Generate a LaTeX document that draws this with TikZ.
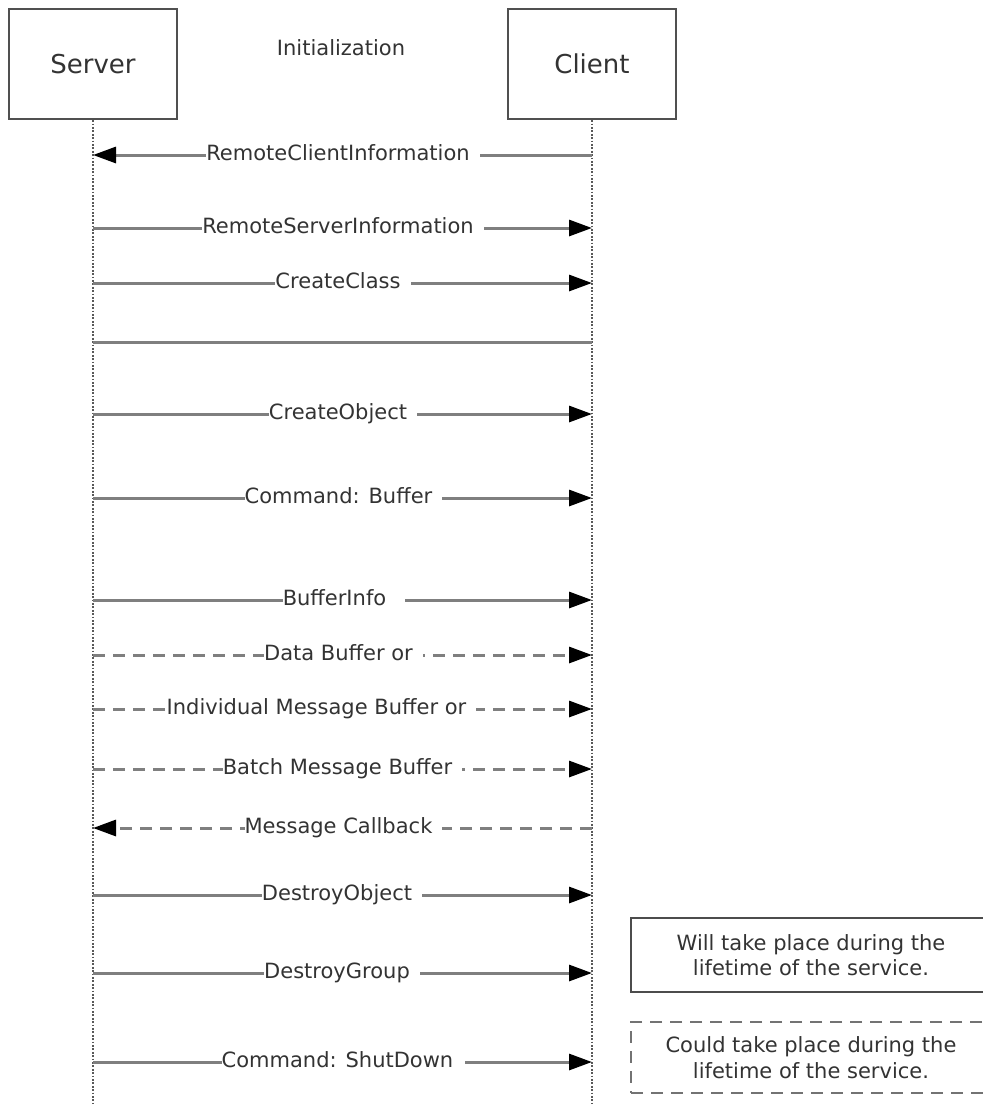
\documentclass[tikz,border=0pt]{standalone}
\usepackage{fontspec}
\setmainfont{DejaVu Sans}
\usetikzlibrary{arrows.meta}
\definecolor{linegray}{HTML}{7F7F7F}
\definecolor{txt}{HTML}{333333}
\definecolor{boxc}{HTML}{505050}
\newcommand\msgrow[6]{% id, y, text centre x, line style, label, right gap
  \coordinate (s#1) at (93,#2);
  \coordinate (c#1) at (592,#2);
  \draw[#4] (s#1) -- (c#1);
  \node[lbl,xshift=#6/2] (l#1) at (#3,#2) {#5\hspace*{#6}};
}
\begin{document}
\begin{tikzpicture}[x=1pt,y=-1pt,
  actor/.style={draw=boxc,line width=2.4pt,minimum width=168pt,minimum height=110pt,inner sep=0pt,text=txt,font=\fontsize{26}{30}\selectfont},
  lifeline/.style={draw=black!65,line width=2.4pt,dash pattern=on 1.8pt off 1.6pt},
  msgline/.style={draw=linegray,line width=3pt},
  optline/.style={msgline,dash pattern=on 12pt off 8pt},
  tofwd/.style={-{Triangle[length=23pt,width=16pt,color=black]}},
  lbl/.style={fill=white,inner sep=0pt,text=txt,font=\fontsize{21}{25}\selectfont,text height=15pt,text depth=4pt},
  title/.style={inner sep=0pt,text=txt,font=\fontsize{21}{25}\selectfont},
  note/.style={line width=2pt,draw=black!70,text=txt,align=center,font=\fontsize{21}{25.5}\selectfont,minimum width=360pt,inner sep=0pt},
  dnote/.style={note,draw=black!55,dash pattern=on 12pt off 8pt}]
\useasboundingbox (0,0) rectangle (983,1104);
\clip (0,0) rectangle (983,1104);
\fill[white] (0,0) rectangle (983,1104);
\node[actor] (server) at (93,64) {Server};
\node[actor] (client) at (592,64) {Client};
\node[title] (init) at (341,48) {Initialization};
\coordinate (sEnd) at (93,1104);
\coordinate (cEnd) at (592,1104);
\draw[lifeline] (server.south) -- (sEnd);
\draw[lifeline] (client.south) -- (cEnd);
% messages
\coordinate (s1) at (93,155); \coordinate (c1) at (592,155);
\draw[msgline,tofwd] (c1) -- (s1);
\node[lbl,xshift=5pt] (l1) at (338,155) {RemoteClientInformation\hspace*{10pt}};
\msgrow{2}{228}{338}{msgline,tofwd}{RemoteServerInformation}{10pt}
\msgrow{3}{283}{338}{msgline,tofwd}{CreateClass}{10pt}
\coordinate (s4) at (93,342); \coordinate (c4) at (592,342);
\draw[msgline] (s4) -- (c4);
\msgrow{5}{414}{338}{msgline,tofwd}{CreateObject}{10pt}
\msgrow{6}{498}{338.5}{msgline,tofwd}{Command: Buffer}{10pt}
\msgrow{7}{600}{334.5}{msgline,tofwd}{BufferInfo}{19pt}
\msgrow{8}{655}{338.5}{optline,tofwd}{Data Buffer or}{10pt}
\msgrow{9}{709}{316.5}{optline,tofwd}{Individual Message Buffer or}{10pt}
\msgrow{10}{769}{337.5}{optline,tofwd}{Batch Message Buffer}{10pt}
\coordinate (s11) at (93,828); \coordinate (c11) at (592,828);
\draw[optline,tofwd] (c11) -- (s11);
\node[lbl,xshift=5pt] (l11) at (338.5,828) {Message Callback\hspace*{10pt}};
\msgrow{12}{895}{337}{msgline,tofwd}{DestroyObject}{10pt}
\msgrow{13}{973}{337}{msgline,tofwd}{DestroyGroup}{10pt}
\msgrow{14}{1062}{337.5}{msgline,tofwd}{Command: ShutDown}{12pt}
% notes
\node[note,minimum height=74pt] (will) at (811,955) {Will take place during the\\lifetime of the service.};
\node[dnote,minimum height=71pt] (could) at (811,1057.5) {Could take place during the\\lifetime of the service.};
\end{tikzpicture}
\end{document}
